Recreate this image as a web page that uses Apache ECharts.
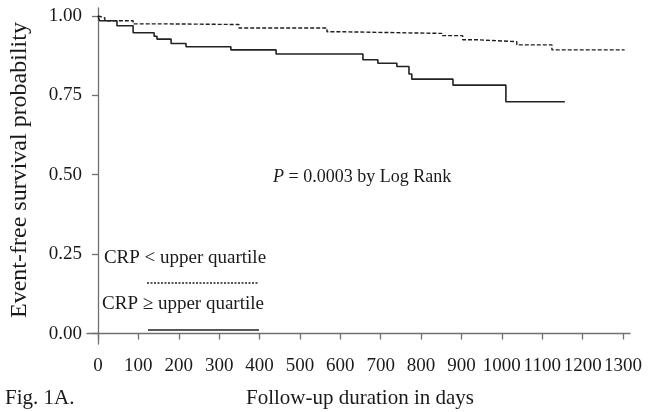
<!DOCTYPE html>
<html>
<head>
<meta charset="utf-8">
<script src="https://cdn.jsdelivr.net/npm/echarts@6/dist/echarts.min.js"></script>
<style>
html,body{margin:0;padding:0;background:#fff;}
#chart{width:659px;height:412px;}
</style>
</head>
<body>
<div id="chart"></div>
<script>
// Group: CRP < upper quartile (dashed)
var lowDays = [0, 4, 17, 87, 171, 349, 567, 611, 851, 903, 938, 1037, 1124, 1304];
var lowSurv = [1.000, 0.994, 0.985, 0.975, 0.973, 0.962, 0.950, 0.945, 0.938, 0.925, 0.919, 0.909, 0.893, 0.893];
// Group: CRP >= upper quartile (solid)
var highDays = [0, 4, 47, 87, 139, 146, 181, 218, 329, 441, 656, 693, 740, 770, 777, 879, 1010, 1156];
var highSurv = [1.000, 0.985, 0.969, 0.947, 0.936, 0.927, 0.913, 0.903, 0.893, 0.880, 0.862, 0.851, 0.841, 0.817, 0.801, 0.782, 0.730, 0.730];
var xTicks = [0, 100, 200, 300, 400, 500, 600, 700, 800, 900, 1000, 1100, 1200, 1300];
var yTicks = [0, 0.25, 0.5, 0.75, 1.0];
var seriesNames = ['CRP < upper quartile', 'CRP \u2265 upper quartile'];
var xTitle = 'Follow-up duration in days';
var yTitle = 'Event-free survival probability';
var pText = 'P';
var pRest = ' = 0.0003 by Log Rank';
var figLabel = 'Fig. 1A.';

function pairs(xs, ys) { return xs.map(function (x, i) { return [x, ys[i]]; }); }

var FONT = '"Liberation Serif", "Times New Roman", serif';
var TXT = '#1a1a1a';
var AX = '#707070';

var chart = echarts.init(document.getElementById('chart'), null, { renderer: 'canvas' });
chart.setOption({
  animation: false,
  backgroundColor: '#fff',
  grid: { left: 87, right: 29, top: 8, bottom: 68, containLabel: false },
  xAxis: {
    type: 'value', min: -27.2, max: 1317.3,
    splitLine: { show: false },
    axisLine: { show: true, lineStyle: { color: AX, width: 1.3 } },
    axisTick: { show: true, length: 6, customValues: xTicks, lineStyle: { color: AX, width: 1.3 } },
    axisLabel: { customValues: xTicks, margin: 13, color: TXT, fontFamily: FONT, fontSize: 19,
      formatter: function (v) { return String(v); } }
  },
  yAxis: {
    type: 'value', min: -0.033, max: 1.025,
    splitLine: { show: false },
    axisLine: { show: true, lineStyle: { color: AX, width: 1.3 } },
    axisTick: { show: true, length: 6, customValues: yTicks, lineStyle: { color: AX, width: 1.3 } },
    axisLabel: { customValues: yTicks, margin: 5, color: TXT, fontFamily: FONT, fontSize: 19,
      formatter: function (v) { return v.toFixed(2); } }
  },
  series: [
    { name: seriesNames[0], type: 'line', step: 'end', showSymbol: false, data: pairs(lowDays, lowSurv),
      lineStyle: { color: '#1e1e1e', width: 1.4, type: [4, 2] } },
    { name: seriesNames[1], type: 'line', step: 'end', showSymbol: false, data: pairs(highDays, highSurv),
      lineStyle: { color: '#222', width: 1.6 } }
  ],
  graphic: [
    { type: 'text', left: 273, top: 168, style: { text: '{i|' + pText + '}' + pRest, fill: TXT, font: '18px ' + FONT,
        rich: { i: { fontStyle: 'italic', fontFamily: FONT, fontSize: 18, fill: TXT } } } },
    { type: 'text', x: 185, y: 258, style: { text: seriesNames[0], fill: TXT, font: '19px ' + FONT, align: 'center', verticalAlign: 'middle' } },
    { type: 'line', shape: { x1: 147, y1: 283, x2: 258, y2: 283 }, style: { stroke: '#222', lineWidth: 1.3, lineDash: [2, 1.5] } },
    { type: 'text', x: 183, y: 304, style: { text: seriesNames[1], fill: TXT, font: '19px ' + FONT, align: 'center', verticalAlign: 'middle' } },
    { type: 'line', shape: { x1: 148, y1: 330, x2: 259, y2: 330 }, style: { stroke: '#222', lineWidth: 1.5 } },
    { type: 'text', x: 360, y: 398, style: { text: xTitle, fill: TXT, font: '21px ' + FONT, align: 'center', verticalAlign: 'middle' } },
    { type: 'text', x: 5, y: 398, style: { text: figLabel, fill: TXT, font: '21px ' + FONT, align: 'left', verticalAlign: 'middle' } },
    { type: 'text', x: 20, y: 170, rotation: Math.PI / 2, style: { text: yTitle, fill: TXT, font: '24px ' + FONT, align: 'center', verticalAlign: 'middle' } }
  ]
});
</script>
</body>
</html>
